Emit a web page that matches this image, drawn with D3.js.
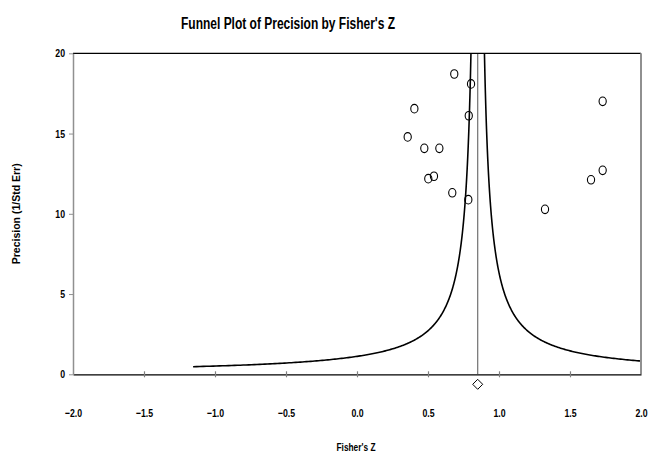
<!DOCTYPE html>
<html><head><meta charset="utf-8">
<script src="https://cdn.jsdelivr.net/npm/d3@7"></script>
<style>body{margin:0;background:#fff}</style>
</head><body>
<svg id="chart" width="648" height="460"></svg>
<script>
// Data
const fisherZ   = [0.685, 0.803, 0.404, 0.787, 0.357, 0.474, 0.580, 0.502, 0.542, 0.671, 0.784, 1.730, 1.730, 1.648, 1.324];
const precision = [18.71, 18.09, 16.55, 16.11, 14.79, 14.08, 14.08, 12.19, 12.34, 11.31, 10.88, 17.01, 12.71, 12.12, 10.28];
const pooledZ = 0.85;
const funnelK = 0.95;
const funnelMinPrecision = 0.474;
const xTicks = [-2.0, -1.5, -1.0, -0.5, 0.0, 0.5, 1.0, 1.5, 2.0];
const yTicks = [0, 5, 10, 15, 20];
const title = "Funnel Plot of Precision by Fisher's Z";
const xLabel = "Fisher's Z";
const yLabel = "Precision (1/Std Err)";

const svg = d3.select("#chart");
const L = 73, R = 641, T = 53.3, B = 374.3;
const x = d3.scaleLinear().domain([-2, 2]).range([L, R]);
const y = d3.scaleLinear().domain([0, 20]).range([B, T]);
const font = "'Liberation Sans', Arial, sans-serif";
const squeeze = 0.76;

// title (condensed)
svg.append("text").attr("transform", `translate(288,29) scale(0.75,1)`).attr("text-anchor", "middle")
  .attr("font-family", font).attr("font-weight", "bold").attr("font-size", 16).attr("fill", "#000").text(title);

// clip
svg.append("clipPath").attr("id", "clip").append("rect").attr("x", L).attr("y", T).attr("width", R - L).attr("height", B - T);

// funnel curves
const ps = d3.range(0, 401).map(i => funnelMinPrecision * Math.pow(60 / funnelMinPrecision, i / 400));
const lineGen = d3.line().x(d => x(d[0])).y(d => y(d[1]));
const g = svg.append("g").attr("clip-path", "url(#clip)");
g.append("path").datum(ps.map(p => [pooledZ - funnelK / p, p])).attr("d", lineGen)
  .attr("fill", "none").attr("stroke", "#000").attr("stroke-width", 1.6);
g.append("path").datum(ps.map(p => [pooledZ + funnelK / p, p])).attr("d", lineGen)
  .attr("fill", "none").attr("stroke", "#000").attr("stroke-width", 1.6);
// center line
g.append("line").attr("x1", x(pooledZ)).attr("x2", x(pooledZ)).attr("y1", T).attr("y2", B)
  .attr("stroke", "#707070").attr("stroke-width", 1.2);

// frame
svg.append("line").attr("x1", L).attr("x2", R).attr("y1", T).attr("y2", T).attr("stroke", "#000").attr("stroke-width", 1.2);
svg.append("line").attr("x1", R).attr("x2", R).attr("y1", T).attr("y2", B).attr("stroke", "#909090").attr("stroke-width", 2);

// axes
const xAxis = d3.axisBottom(x).tickValues(xTicks).tickSize(0).tickFormat(d3.format(".1f"));
const xg = svg.append("g").attr("transform", `translate(0,${B})`).call(xAxis);
xg.select(".domain").attr("stroke", "#000").attr("stroke-width", 1.2);
xg.selectAll(".tick text").attr("dy", 0).attr("y", 0)
  .attr("transform", `translate(0,43) scale(${squeeze},1)`)
  .attr("font-family", font).attr("font-weight", "bold").attr("font-size", 11.5).attr("fill", "#000");
xg.selectAll(".tick").filter(d => d > -2 && d < 2).append("line").attr("y1", -3).attr("y2", 3).attr("stroke", "#808080").attr("stroke-width", 1.2);

const yAxis = d3.axisLeft(y).tickValues(yTicks).tickSize(4).tickSizeOuter(0).tickFormat(d3.format("d"));
const yg = svg.append("g").attr("transform", `translate(${L},0)`).call(yAxis);
yg.select(".domain").attr("stroke", "#909090").attr("stroke-width", 1.5);
yg.selectAll(".tick line").attr("stroke", "#909090");
yg.selectAll(".tick text").attr("x", 0).attr("transform", `translate(-8,0) scale(${squeeze},1)`)
  .attr("font-family", font).attr("font-weight", "bold").attr("font-size", 11.5).attr("fill", "#000");

// labels
svg.append("text").attr("transform", `translate(356,451) scale(${squeeze},1)`).attr("text-anchor", "middle")
  .attr("font-family", font).attr("font-weight", "bold").attr("font-size", 11).attr("fill", "#000").text(xLabel);
svg.append("text").attr("transform", `translate(20,${(T + B) / 2}) rotate(-90)`).attr("text-anchor", "middle")
  .attr("font-family", font).attr("font-weight", "bold").attr("font-size", 10.5).attr("fill", "#000").text(yLabel);

// points
svg.append("g").selectAll("ellipse").data(fisherZ.map((z, i) => [z, precision[i]])).join("ellipse")
  .attr("cx", d => x(d[0])).attr("cy", d => y(d[1])).attr("rx", 3.6).attr("ry", 4.3)
  .attr("fill", "none").attr("stroke", "#000").attr("stroke-width", 1.1);

// diamond
const dsz = 5;
svg.append("path").attr("d", `M${x(pooledZ)},${B + 10 - dsz}L${x(pooledZ) + dsz},${B + 10}L${x(pooledZ)},${B + 10 + dsz}L${x(pooledZ) - dsz},${B + 10}Z`)
  .attr("fill", "#fff").attr("stroke", "#000").attr("stroke-width", 1);
</script>
</body></html>
